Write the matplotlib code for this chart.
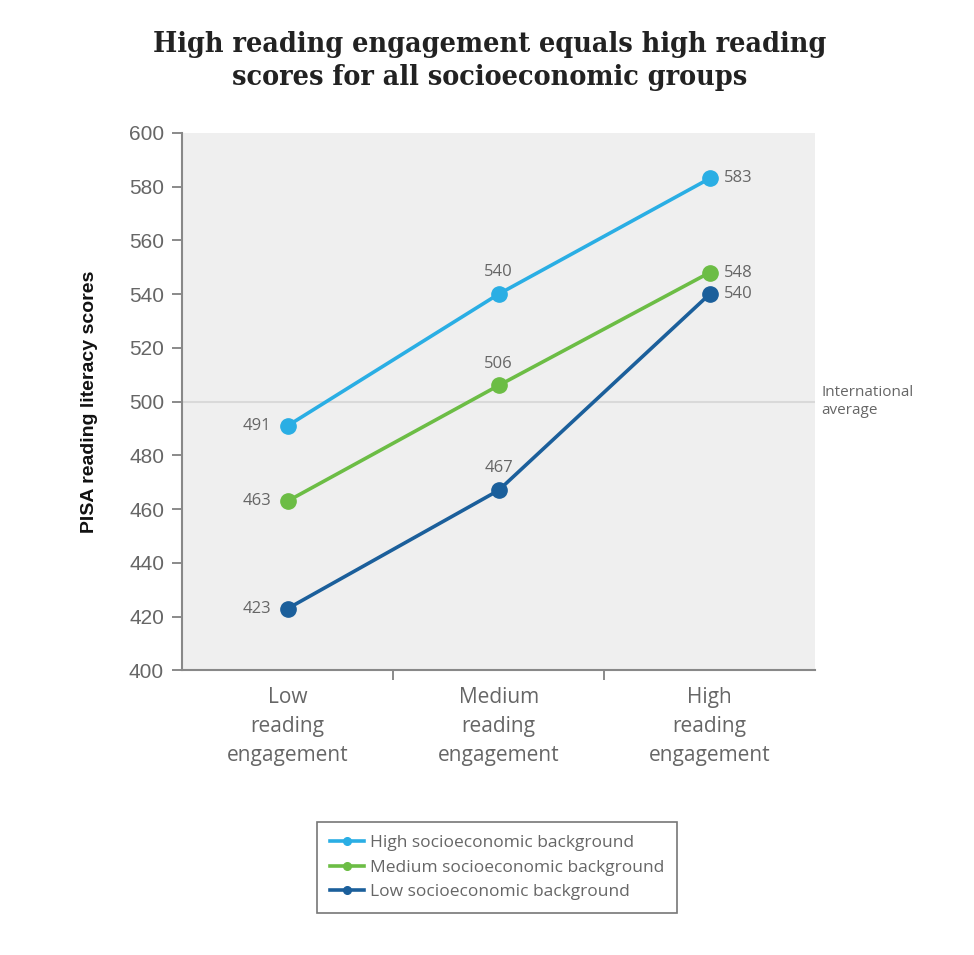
import numpy as np
import matplotlib.pyplot as plt
from matplotlib import ticker

# data
categories = ["Low\nreading\nengagement", "Medium\nreading\nengagement", "High\nreading\nengagement"]
high_ses = [491, 540, 583]
medium_ses = [463, 506, 548]
low_ses = [423, 467, 540]
intl_avg = 500
yticks = [400, 420, 440, 460, 480, 500, 520, 540, 560, 580, 600]

c_high = "#2aaee4"
c_med = "#6cbd45"
c_low = "#1b5f9b"
grey = "#666666"

fig = plt.figure(figsize=(9.74, 9.55), dpi=100)
ax = fig.add_axes([0.187, 0.298, 0.650, 0.563])
ax.set_facecolor("#efefef")

x = np.arange(len(categories))
ax.axhline(intl_avg, color="#d9d9d9", lw=1.5, zorder=1)
ax.plot(x, high_ses, color=c_high, lw=2.6, marker="o", ms=11, label="High socioeconomic background", zorder=3)
ax.plot(x, medium_ses, color=c_med, lw=2.6, marker="o", ms=11, label="Medium socioeconomic background", zorder=3)
ax.plot(x, low_ses, color=c_low, lw=2.6, marker="o", ms=11, label="Low socioeconomic background", zorder=3)

lab = dict(color=grey, fontsize=12, family="Open Sans")
# left point labels
for v in [high_ses[0], medium_ses[0], low_ses[0]]:
    ax.annotate(str(v), (0, v), xytext=(-12, 0), textcoords="offset points", ha="right", va="center", **lab)
# middle labels above
for v in [high_ses[1], medium_ses[1], low_ses[1]]:
    ax.annotate(str(v), (1, v), xytext=(0, 10), textcoords="offset points", ha="center", va="bottom", **lab)
# right labels
for v in [high_ses[2], medium_ses[2], low_ses[2]]:
    ax.annotate(str(v), (2, v), xytext=(10, 0), textcoords="offset points", ha="left", va="center", **lab)

ax.text(1.01, intl_avg, "International\naverage", transform=ax.get_yaxis_transform(),
        ha="left", va="center", color=grey, fontsize=11, family="Open Sans", linespacing=1.3)

ax.set_xlim(-0.5, 2.5)
ax.set_ylim(400, 600)
ax.set_yticks(yticks)
ax.set_xticks(x)
ax.set_xticklabels(categories, color=grey, fontsize=15, family="Open Sans", linespacing=1.5)
ax.xaxis.set_minor_locator(ticker.FixedLocator([0.5, 1.5]))
ax.tick_params(axis="x", which="major", length=0, pad=12)
ax.tick_params(axis="x", which="minor", length=7, width=1.2, color="#777777", direction="out")
ax.tick_params(axis="y", length=7, width=1.2, color="#777777", labelcolor=grey, labelsize=15, pad=6)
for t in ax.get_yticklabels():
    t.set_family("Liberation Sans")

for s in ["top", "right"]:
    ax.spines[s].set_visible(False)
for s in ["left", "bottom"]:
    ax.spines[s].set_color("#888888")
    ax.spines[s].set_linewidth(1.5)

ax.set_ylabel("PISA reading literacy scores", fontsize=14, fontweight="bold",
              family="Liberation Sans", color="#111111", labelpad=22)

fig.text(0.503, 0.968, "High reading engagement equals high reading\nscores for all socioeconomic groups",
         ha="center", va="top", fontsize=20.5, fontweight="bold", family="DejaVu Serif",
         fontstretch="condensed", color="#222222", linespacing=1.3)

leg = ax.legend(loc="upper center", bbox_to_anchor=(0.497, -0.265), frameon=True, fancybox=False,
                edgecolor="#555555", handlelength=2.0, handletextpad=0.3, labelspacing=0.5,
                borderpad=0.75, prop={"family": "Open Sans", "size": 12.5}, markerscale=0.5)
for t in leg.get_texts():
    t.set_color(grey)
leg.get_frame().set_linewidth(1.2)

fig.savefig("out.png", dpi=100)
